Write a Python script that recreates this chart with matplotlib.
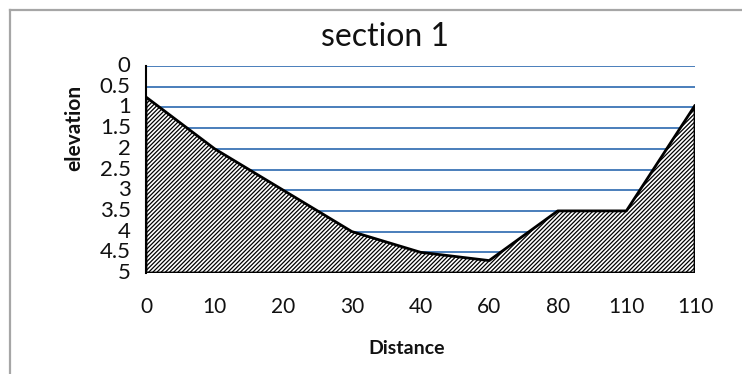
import matplotlib
matplotlib.use('Agg')
import matplotlib.pyplot as plt
from matplotlib.lines import Line2D
import numpy as np

plt.rcParams['font.family'] = ['Lato', 'DejaVu Sans']
plt.rcParams['hatch.linewidth'] = 0.9

# data
distance_labels = ['0', '10', '20', '30', '40', '60', '80', '110', '110']
elevation = [0.75, 2, 3, 4, 4.5, 4.7, 3.5, 3.5, 0.95]
y_ticks = [0, 0.5, 1, 1.5, 2, 2.5, 3, 3.5, 4, 4.5, 5]

W, H = 742, 374
fig = plt.figure(figsize=(W / 100, H / 100), dpi=100)
ax = fig.add_axes([146 / W, 1 - 273 / H, (695 - 146) / W, (273 - 66) / H])

x = np.arange(len(elevation))
ax.fill_between(x, elevation, 5, facecolor='white', edgecolor='black',
                hatch='////////', linewidth=2, zorder=3)

ax.set_xlim(0, len(elevation) - 1)
ax.set_ylim(5, 0)
ax.set_yticks(y_ticks)
ax.set_yticklabels([f'{v:g}' for v in y_ticks])
ax.set_xticks(x)
ax.set_xticklabels(distance_labels)

ax.yaxis.grid(True, color='#4a7ebb', linewidth=1.4, zorder=1)
ax.set_axisbelow(True)

for side in ['top', 'right', 'bottom']:
    ax.spines[side].set_visible(False)
ax.spines['left'].set_color('black')
ax.spines['left'].set_linewidth(1.5)

ax.tick_params(axis='y', length=0, pad=11, labelsize=16, colors='#111111')
ax.tick_params(axis='x', length=0, pad=17, labelsize=15, colors='#111111')
for lbl in ax.get_yticklabels():
    lbl.set_verticalalignment('center')

fig.text(385 / W, 1 - 37 / H, 'section 1', ha='center', va='center',
         fontsize=23, color='#111111')
fig.text(74 / W, 1 - 128 / H, 'elevation', ha='center', va='center',
         rotation=90, fontsize=15, fontweight='bold', color='#111111')
fig.text(407 / W, 1 - 348 / H, 'Distance', ha='center', va='center',
         fontsize=14, fontweight='bold', color='#111111')

# outer chart border (top and left edges visible)
fig.add_artist(Line2D([10 / W, 1], [1 - 10 / H, 1 - 10 / H], color='#a6a6a6',
                      linewidth=1.6, transform=fig.transFigure))
fig.add_artist(Line2D([10 / W, 10 / W], [0, 1 - 10 / H], color='#a6a6a6',
                      linewidth=1.6, transform=fig.transFigure))

fig.savefig('out.png', dpi=100)
